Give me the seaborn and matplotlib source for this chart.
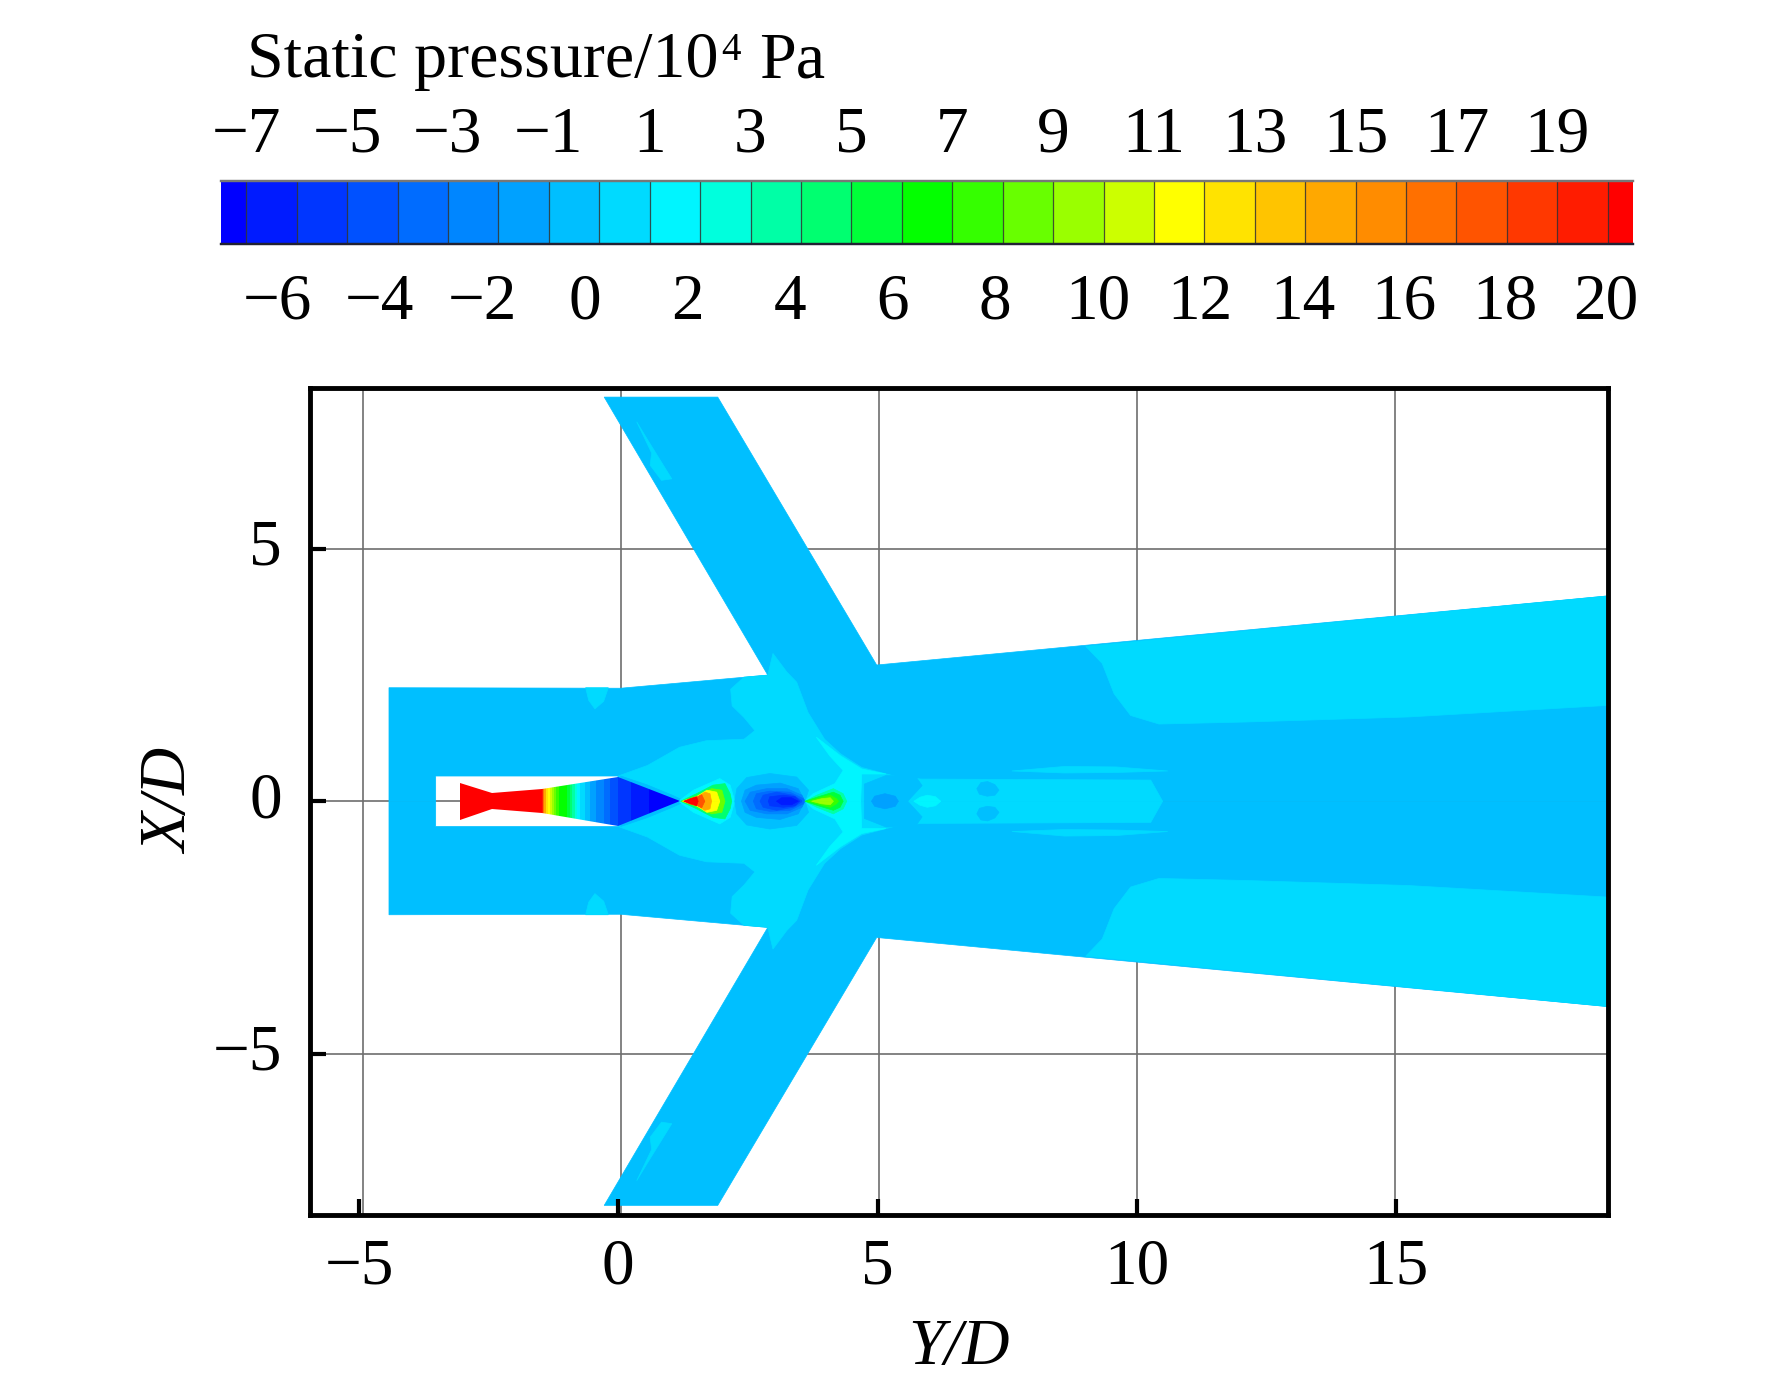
"""
Static pressure contour of the nozzle jet and duct, with a banded colour scale
"""
import numpy as np
import matplotlib.pyplot as plt
import seaborn as sns
from matplotlib.colors import BoundaryNorm, LinearSegmentedColormap, ListedColormap
from matplotlib.patches import Polygon


# -----------------------------
# Data
# -----------------------------

TITLE_MAIN = "Static pressure/10"
TITLE_POWER = "4"
TITLE_UNIT = "Pa"
BAR_LEVELS = [-7.25] + [v + 0.5 for v in range(-7, 20)] + [20.25]
BAR_TOP_TICKS = [-7, -5, -3, -1, 1, 3, 5, 7, 9, 11, 13, 15, 17, 19]
BAR_BOTTOM_TICKS = [-6, -4, -2, 0, 2, 4, 6, 8, 10, 12, 14, 16, 18, 20]

X_TICKS = [-5, 0, 5, 10, 15]
Y_TICKS = [-5, 0, 5]

# all outlines are the upper half (x = Y/D, y = X/D) and get mirrored on y = 0
DUCT_X = [-4.49, -4.49, 0.0, 2.85, -0.32, 1.88, 4.96, 19.13, 19.13, -0.05, -0.05, -3.585, -3.585]
DUCT_Y = [0.0, 2.25, 2.24, 2.50, 8.01, 8.01, 2.70, 4.07, 0.0, 0.0, 0.50, 0.50, 0.0]
DUCT_LEVEL = -0.5

OUTLET_X = [9.01, 9.33, 9.56, 9.88, 10.43, 12.1, 15.26, 19.13, 19.13]
OUTLET_Y = [3.07, 2.73, 2.13, 1.70, 1.53, 1.57, 1.67, 1.90, 4.07]

JET_X = [-0.05, 0.52, 1.14, 1.66, 2.39, 2.60, 2.39, 2.16, 2.13, 2.39, 2.85, 2.95, 3.22, 3.41,
         3.63, 3.95, 4.26, 4.67, 5.30, 5.82, 10.27, 10.5, -0.05]
JET_Y = [0.50, 0.71, 1.07, 1.20, 1.23, 1.40, 1.66, 1.89, 2.22, 2.46, 2.50, 2.93, 2.56, 2.36,
         1.76, 1.23, 0.94, 0.67, 0.50, 0.44, 0.42, 0.0, 0.0]

STRIPE_X = [7.58, 8.6, 9.6, 10.6, 9.6, 8.6]
STRIPE_Y = [0.60, 0.69, 0.68, 0.60, 0.57, 0.56]

ARM_SPOT_X = [0.31, 0.50, 0.99, 0.79, 0.57, 0.60]
ARM_SPOT_Y = [7.52, 7.20, 6.39, 6.36, 6.66, 6.90]

WALL_SPOT_X = [-0.68, -0.24, -0.33, -0.50, -0.62]
WALL_SPOT_Y = [2.25, 2.25, 1.98, 1.83, 2.00]

CONE_HALO_X = [0.0, 0.5, 1.0, 1.25, 0.0]
CONE_HALO_Y = [0.5, 0.33, 0.12, 0.0, 0.0]

SHOCK_X = [3.79, 4.26, 4.67, 5.14, 4.67, 4.65, 3.57, 3.73, 4.15, 4.31, 4.05]
SHOCK_Y = [1.27, 0.90, 0.64, 0.54, 0.54, 0.0, 0.0, 0.15, 0.35, 0.61, 0.90]

PLUME_SPOTS = [
    (-0.5, [4.72, 4.72, 5.14, 5.71, 5.84, 5.56], [0.0, 0.34, 0.51, 0.50, 0.31, 0.0]),
    (-1.5, [4.86, 4.92, 5.12, 5.32, 5.38], [0.0, 0.10, 0.15, 0.10, 0.0]),
    (1.5, [5.68, 5.80, 5.94, 6.10, 6.20], [0.0, 0.08, 0.12, 0.09, 0.0]),
    (-0.5, [6.90, 6.98, 7.11, 7.25, 7.33, 7.25, 7.10, 6.95],
     [0.25, 0.37, 0.39, 0.33, 0.22, 0.12, 0.10, 0.14]),
]

CELL1_LEVELS = [1.5, 4.5, 8.5, 11.5, 14.5, 17.5, 20.25]
CELL1_X = [[1.12, 1.41, 1.92, 2.12, 2.21],
           [1.16, 1.47, 1.79, 2.02, 2.12, 2.15],
           [1.18, 1.47, 1.76, 1.96, 2.02],
           [1.20, 1.47, 1.67, 1.86, 1.92],
           [1.21, 1.47, 1.63, 1.73, 1.76],
           [1.23, 1.41, 1.57, 1.63],
           [1.23, 1.34, 1.47, 1.50]]
CELL1_Y = [[0.0, 0.22, 0.45, 0.32, 0.0],
           [0.0, 0.15, 0.32, 0.35, 0.15, 0.0],
           [0.0, 0.10, 0.25, 0.22, 0.0],
           [0.0, 0.09, 0.22, 0.18, 0.0],
           [0.0, 0.07, 0.18, 0.15, 0.0],
           [0.0, 0.05, 0.13, 0.0],
           [0.0, 0.05, 0.09, 0.0]]

CELL2_LEVELS = [-0.5, -1.5, -2.5, -3.5, -4.5, -5.5, -6.5]
CELL2_X = [[2.21, 2.25, 2.44, 2.89, 3.41, 3.64, 3.57],
           [2.34, 2.41, 2.63, 3.09, 3.44, 3.57],
           [2.41, 2.51, 2.83, 3.22, 3.51, 3.57],
           [2.57, 2.63, 2.89, 3.28, 3.54, 3.56],
           [2.70, 2.76, 3.02, 3.34, 3.50, 3.51],
           [2.86, 2.89, 3.15, 3.38, 3.47],
           [3.02, 3.12, 3.31, 3.44]]
CELL2_Y = [[0.0, 0.25, 0.47, 0.55, 0.48, 0.22, 0.0],
           [0.0, 0.22, 0.32, 0.36, 0.25, 0.0],
           [0.0, 0.18, 0.25, 0.25, 0.12, 0.0],
           [0.0, 0.15, 0.20, 0.18, 0.05, 0.0],
           [0.0, 0.12, 0.18, 0.12, 0.02, 0.0],
           [0.0, 0.09, 0.12, 0.09, 0.0],
           [0.0, 0.07, 0.07, 0.0]]

CELL3_LEVELS = [3.5, 5.5, 7.5, 9.5]
CELL3_X = [[3.57, 3.80, 4.12, 4.31, 4.38],
           [3.57, 3.83, 4.12, 4.25, 4.31],
           [3.62, 3.86, 4.06, 4.18, 4.22],
           [3.70, 3.89, 4.06, 4.12]]
CELL3_Y = [[0.0, 0.12, 0.25, 0.15, 0.0],
           [0.0, 0.09, 0.18, 0.12, 0.0],
           [0.0, 0.07, 0.12, 0.05, 0.0],
           [0.0, 0.05, 0.07, 0.0]]

NOZZLE_X = [-3.11, -3.11, -2.50, -1.53, -0.05, 1.15]
NOZZLE_Y = [0.0, 0.37, 0.155, 0.235, 0.49, 0.0]
NOZZLE_EDGES = [-3.2, -1.53, -1.51, -1.49, -1.45, -1.41, -1.37, -1.33, -1.29, -1.25, -1.19, -1.05,
                -0.99, -0.94, -0.89, -0.84, -0.78, -0.70, -0.60, -0.47, -0.33, -0.20, -0.06, 0.20,
                0.55, 1.2]
NOZZLE_LEVELS = [20.25, 19.5, 16.5, 14.5, 12.5, 11.5, 10.5, 9.5, 8.5, 7.5, 6.5, 5.5, 4.5, 3.5,
                 2.5, 1.5, 0.5, -0.5, -1.5, -2.5, -3.5, -4.5, -5.5, -6.5, -7.25]


# -----------------------------
# Colours
# -----------------------------

def band_colours():

    ramp = LinearSegmentedColormap.from_list(
        "fluent",
        [(0.0, "#0000ff"), (9.37 / 28, "#00ffff"), (14 / 28, "#00ff00"),
         (19 / 28, "#ffff00"), (1.0, "#ff0000")],
    )
    cmap = ListedColormap([ramp(i / 28) for i in range(29)])
    edges = [-7.5] + list(range(-7, 21)) + [20.5]
    return cmap, BoundaryNorm(edges, 29)


CMAP, NORM = band_colours()


def fill_mirrored(ax, xs, ys, level):

    colour = CMAP(NORM(level))
    for sign in (1, -1):
        ax.fill(
            xs,
            [sign * v for v in ys],
            facecolor=colour,
            edgecolor=colour,
            linewidth=0.5,
            zorder=2,
        )


# -----------------------------
# Plot
# -----------------------------

def draw_colour_bar(fig):

    ax = fig.add_axes([221 / 1772, 1 - 244 / 1384, (1633 - 221) / 1772, 63 / 1384])

    # half unit cells, so the two end bands come out half as wide as the others
    cells = []
    for value in np.arange(-7.5, 20.5, 0.5):
        cells.append(BAR_LEVELS[int(np.floor(value + 8))])

    sns.heatmap(
        np.array(cells).reshape(1, -1),
        cmap=CMAP,
        norm=NORM,
        cbar=False,
        xticklabels=False,
        yticklabels=False,
        ax=ax,
    )

    for value in range(-7, 21):
        ax.axvline((value + 7.5) * 2, color="#333333", lw=0.9, alpha=0.85)

    # the lower row of labels is spaced a little wider than the bands
    positions = [(v + 7.5) * 2 - 0.09 - max(0, 14 - v) * 0.034 for v in BAR_BOTTOM_TICKS]
    ax.set_xticks(positions)
    ax.set_xticklabels([str(v).replace("-", "\u2212") for v in BAR_BOTTOM_TICKS])
    ax.tick_params(axis="x", length=0, pad=21, labelsize=47)

    top = ax.twiny()
    top.set_xlim(ax.get_xlim())
    top.set_xticks([(v + 7.5) * 2 for v in BAR_TOP_TICKS])
    top.set_xticklabels([str(v).replace("-", "\u2212") for v in BAR_TOP_TICKS])
    top.tick_params(axis="x", length=0, pad=11, labelsize=47)

    for axis in (ax, top):
        for side, spine in axis.spines.items():
            spine.set_visible(side in ("top", "bottom"))
            spine.set_linewidth(1.6)
            spine.set_color("#777777" if side == "top" else "#222233")

    fig.text(247 / 1772, 1 - 77 / 1384, TITLE_MAIN, fontsize=47.5, va="baseline")
    fig.text(721 / 1772, 1 - 60 / 1384, TITLE_POWER, fontsize=28, va="baseline")
    fig.text(759 / 1772, 1 - 77 / 1384, TITLE_UNIT, fontsize=47.5, va="baseline")


def draw_field(fig):

    left, right, upper, lower = 309.5, 1608, 387.5, 1215
    ax = fig.add_axes([left / 1772, 1 - lower / 1384, (right - left) / 1772, (lower - upper) / 1384])

    for value in X_TICKS:
        ax.axvline(value, color="#6e6e6e", lw=1.2, zorder=1)
    for value in Y_TICKS:
        ax.axhline(value, color="#6e6e6e", lw=1.2, zorder=1)

    fill_mirrored(ax, DUCT_X, DUCT_Y, DUCT_LEVEL)
    fill_mirrored(ax, OUTLET_X, OUTLET_Y, 0.5)
    fill_mirrored(ax, JET_X, JET_Y, 0.5)
    fill_mirrored(ax, STRIPE_X, STRIPE_Y, 0.5)
    fill_mirrored(ax, ARM_SPOT_X, ARM_SPOT_Y, 0.5)
    fill_mirrored(ax, WALL_SPOT_X, WALL_SPOT_Y, 0.5)
    fill_mirrored(ax, CONE_HALO_X, CONE_HALO_Y, -0.5)
    fill_mirrored(ax, SHOCK_X, SHOCK_Y, 1.5)

    for level, xs, ys in PLUME_SPOTS:
        fill_mirrored(ax, xs, ys, level)

    for levels, xs_all, ys_all in (
        (CELL1_LEVELS, CELL1_X, CELL1_Y),
        (CELL2_LEVELS, CELL2_X, CELL2_Y),
        (CELL3_LEVELS, CELL3_X, CELL3_Y),
    ):
        for level, xs, ys in zip(levels, xs_all, ys_all):
            fill_mirrored(ax, xs, ys, level)

    # nozzle: vertical bands cut to the nozzle outline
    mesh = ax.pcolormesh(
        NOZZLE_EDGES, [-1, 1], np.array([NOZZLE_LEVELS]), cmap=CMAP, norm=NORM, zorder=3
    )
    outline = np.column_stack(
        [NOZZLE_X + NOZZLE_X[::-1], NOZZLE_Y + [-v for v in NOZZLE_Y][::-1]]
    )
    clip = Polygon(outline, closed=True, transform=ax.transData, facecolor="none", edgecolor="none")
    ax.add_patch(clip)
    mesh.set_clip_path(clip)

    ax.set_xlim(-6.03, 19.13)
    ax.set_ylim(-8.2, 8.2)

    # the tick marks of the source sit a hair left of its grid lines
    ax.set_xticks([v - 0.07 + 0.0047 * (v + 5) for v in X_TICKS])
    ax.set_yticks(Y_TICKS)
    ax.set_xticklabels([str(v).replace("-", "\u2212") for v in X_TICKS])
    ax.set_yticklabels([str(v).replace("-", "\u2212") for v in Y_TICKS], va="center")
    ax.tick_params(axis="x", direction="in", length=11.5, width=3, labelsize=47, pad=16.5)
    ax.tick_params(axis="y", direction="in", length=11.5, width=3, labelsize=47, pad=20)
    ax.grid(False)
    ax.set_axisbelow(False)

    for spine in ax.spines.values():
        spine.set_linewidth(3.5)
        spine.set_color("black")

    ax.set_xlabel("Y/D", fontsize=47, style="italic", labelpad=15)
    ax.set_ylabel("X/D", fontsize=47, style="italic", labelpad=8)


def main():

    sns.set_theme(style="ticks")
    plt.rcParams["font.family"] = ["Liberation Serif", "DejaVu Serif"]
    plt.rcParams["text.color"] = "black"
    plt.rcParams["xtick.color"] = "black"
    plt.rcParams["ytick.color"] = "black"
    plt.rcParams["axes.labelcolor"] = "black"

    fig = plt.figure(figsize=(17.72, 13.84), dpi=100)

    draw_colour_bar(fig)
    draw_field(fig)

    fig.savefig("out.png", dpi=100)


if __name__ == "__main__":
    main()
